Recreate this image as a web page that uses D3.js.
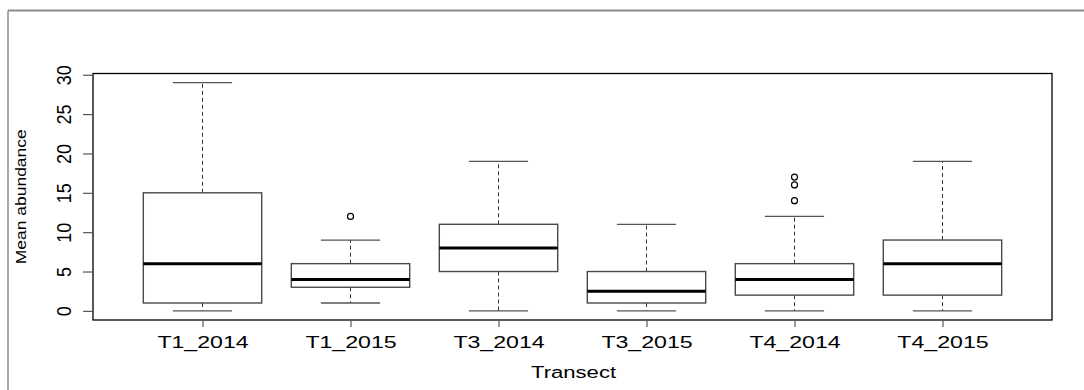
<!DOCTYPE html>
<html>
<head>
<meta charset="utf-8">
<script src="https://cdn.jsdelivr.net/npm/d3@7"></script>
<style>
  html, body { margin: 0; padding: 0; background: #fff; }
  svg { display: block; }
  text { font-family: "Liberation Sans", Arial, sans-serif; fill: #000; }
</style>
</head>
<body>
<svg id="chart" width="1084" height="390"></svg>
<script>
// Box-plot summaries of mean abundance per transect and year
const categories = ["T1_2014", "T1_2015", "T3_2014", "T3_2015", "T4_2014", "T4_2015"];
const lowerWhisker = [0, 1, 0, 0, 0, 0];
const lowerQuartile = [1, 3, 5, 1, 2, 2];
const medians = [6, 4, 8, 2.5, 4, 6];
const upperQuartile = [15, 6, 11, 5, 6, 9];
const upperWhisker = [29, 9, 19, 11, 12, 19];
const outliers = [[], [12], [], [], [14, 16, 17], []];
const yTicks = [0, 5, 10, 15, 20, 25, 30];
const xTitle = "Transect";
const yTitle = "Mean abundance";

const svg = d3.select("#chart");
const plot = { left: 93, right: 1052, top: 73.5, bottom: 320 };

const x = d3.scalePoint()
  .domain(categories)
  .range([plot.left, plot.right])
  .padding(0.74);

const y = d3.scaleLinear()
  .domain([-1.16, 30.16])
  .range([plot.bottom, plot.top]);

const step = x.step();
const boxW = step * 0.8;
const capW = boxW * 0.5;

// Frame lines along the top and left of the figure
svg.append("line").attr("x1", 8).attr("x2", 1084).attr("y1", 10.5).attr("y2", 10.5)
  .attr("stroke", "#8c8c8c").attr("stroke-width", 2);
svg.append("line").attr("x1", 8).attr("x2", 8).attr("y1", 10.5).attr("y2", 390)
  .attr("stroke", "#8c8c8c").attr("stroke-width", 1.5);

const rows = categories.map((c, i) => ({
  cat: c,
  lo: lowerWhisker[i], q1: lowerQuartile[i], med: medians[i],
  q3: upperQuartile[i], hi: upperWhisker[i], out: outliers[i]
}));

const g = svg.append("g").selectAll("g.box").data(rows).join("g").attr("class", "box");

// Dashed whiskers
g.append("line")
  .attr("x1", d => x(d.cat)).attr("x2", d => x(d.cat))
  .attr("y1", d => y(d.q3)).attr("y2", d => y(d.hi))
  .attr("stroke", "#333").attr("stroke-width", 1).attr("stroke-dasharray", "4,3");
g.append("line")
  .attr("x1", d => x(d.cat)).attr("x2", d => x(d.cat))
  .attr("y1", d => y(d.q1)).attr("y2", d => y(d.lo))
  .attr("stroke", "#333").attr("stroke-width", 1).attr("stroke-dasharray", "4,3");

// Whisker caps
g.append("line")
  .attr("x1", d => x(d.cat) - capW / 2).attr("x2", d => x(d.cat) + capW / 2)
  .attr("y1", d => y(d.hi)).attr("y2", d => y(d.hi))
  .attr("stroke", "#555").attr("stroke-width", 1.3);
g.append("line")
  .attr("x1", d => x(d.cat) - capW / 2).attr("x2", d => x(d.cat) + capW / 2)
  .attr("y1", d => y(d.lo)).attr("y2", d => y(d.lo))
  .attr("stroke", "#555").attr("stroke-width", 1.3);

// Boxes
g.append("rect")
  .attr("x", d => x(d.cat) - boxW / 2).attr("width", boxW)
  .attr("y", d => y(d.q3)).attr("height", d => y(d.q1) - y(d.q3))
  .attr("fill", "#fff").attr("stroke", "#4a4a4a").attr("stroke-width", 1.4);

// Medians
g.append("line")
  .attr("x1", d => x(d.cat) - boxW / 2).attr("x2", d => x(d.cat) + boxW / 2)
  .attr("y1", d => y(d.med)).attr("y2", d => y(d.med))
  .attr("stroke", "#000").attr("stroke-width", 3);

// Outlying points
g.selectAll("circle").data(d => d.out.map(v => ({ cat: d.cat, v }))).join("circle")
  .attr("cx", d => x(d.cat)).attr("cy", d => y(d.v)).attr("r", 3)
  .attr("fill", "none").attr("stroke", "#000").attr("stroke-width", 1.2);

// Plot frame
svg.append("rect")
  .attr("x", plot.left).attr("y", plot.top)
  .attr("width", plot.right - plot.left).attr("height", plot.bottom - plot.top)
  .attr("fill", "none").attr("stroke", "#000").attr("stroke-width", 1.3);

// Y axis
const yAxis = svg.append("g").attr("transform", `translate(${plot.left},0)`)
  .call(d3.axisLeft(y).tickValues(yTicks).tickSize(10).tickFormat(d3.format("d")));
yAxis.select(".domain").remove();
yAxis.selectAll(".tick line").attr("stroke", "#555").attr("stroke-width", 1.2);
yAxis.selectAll(".tick text")
  .attr("x", null).attr("dy", null)
  .attr("font-size", 18)
  .attr("text-anchor", "middle")
  .attr("transform", "translate(-22,0) rotate(-90) scale(1,1.12)")
  .style("font-family", "'Liberation Sans', Arial, sans-serif");

// X axis
const xAxis = svg.append("g").attr("transform", `translate(0,${plot.bottom})`)
  .call(d3.axisBottom(x).tickSize(7));
xAxis.select(".domain").remove();
xAxis.selectAll(".tick line").attr("stroke", "#555").attr("stroke-width", 1.2);
xAxis.selectAll(".tick text")
  .attr("y", null).attr("dy", null)
  .attr("font-size", 17)
  .attr("text-anchor", "middle")
  .attr("transform", "translate(0,27.7) scale(1.36,1)")
  .style("font-family", "'Liberation Sans', Arial, sans-serif");

// Axis titles
svg.append("text")
  .attr("transform", `translate(${(plot.left + plot.right) / 2 + 1},378) scale(1.3,1)`)
  .attr("text-anchor", "middle").attr("font-size", 17)
  .text(xTitle);

svg.append("text")
  .attr("transform", `translate(26,${(plot.top + plot.bottom) / 2}) rotate(-90)`)
  .attr("text-anchor", "middle").attr("font-size", 14)
  .attr("textLength", 135).attr("lengthAdjust", "spacingAndGlyphs")
  .text(yTitle);
</script>
</body>
</html>
